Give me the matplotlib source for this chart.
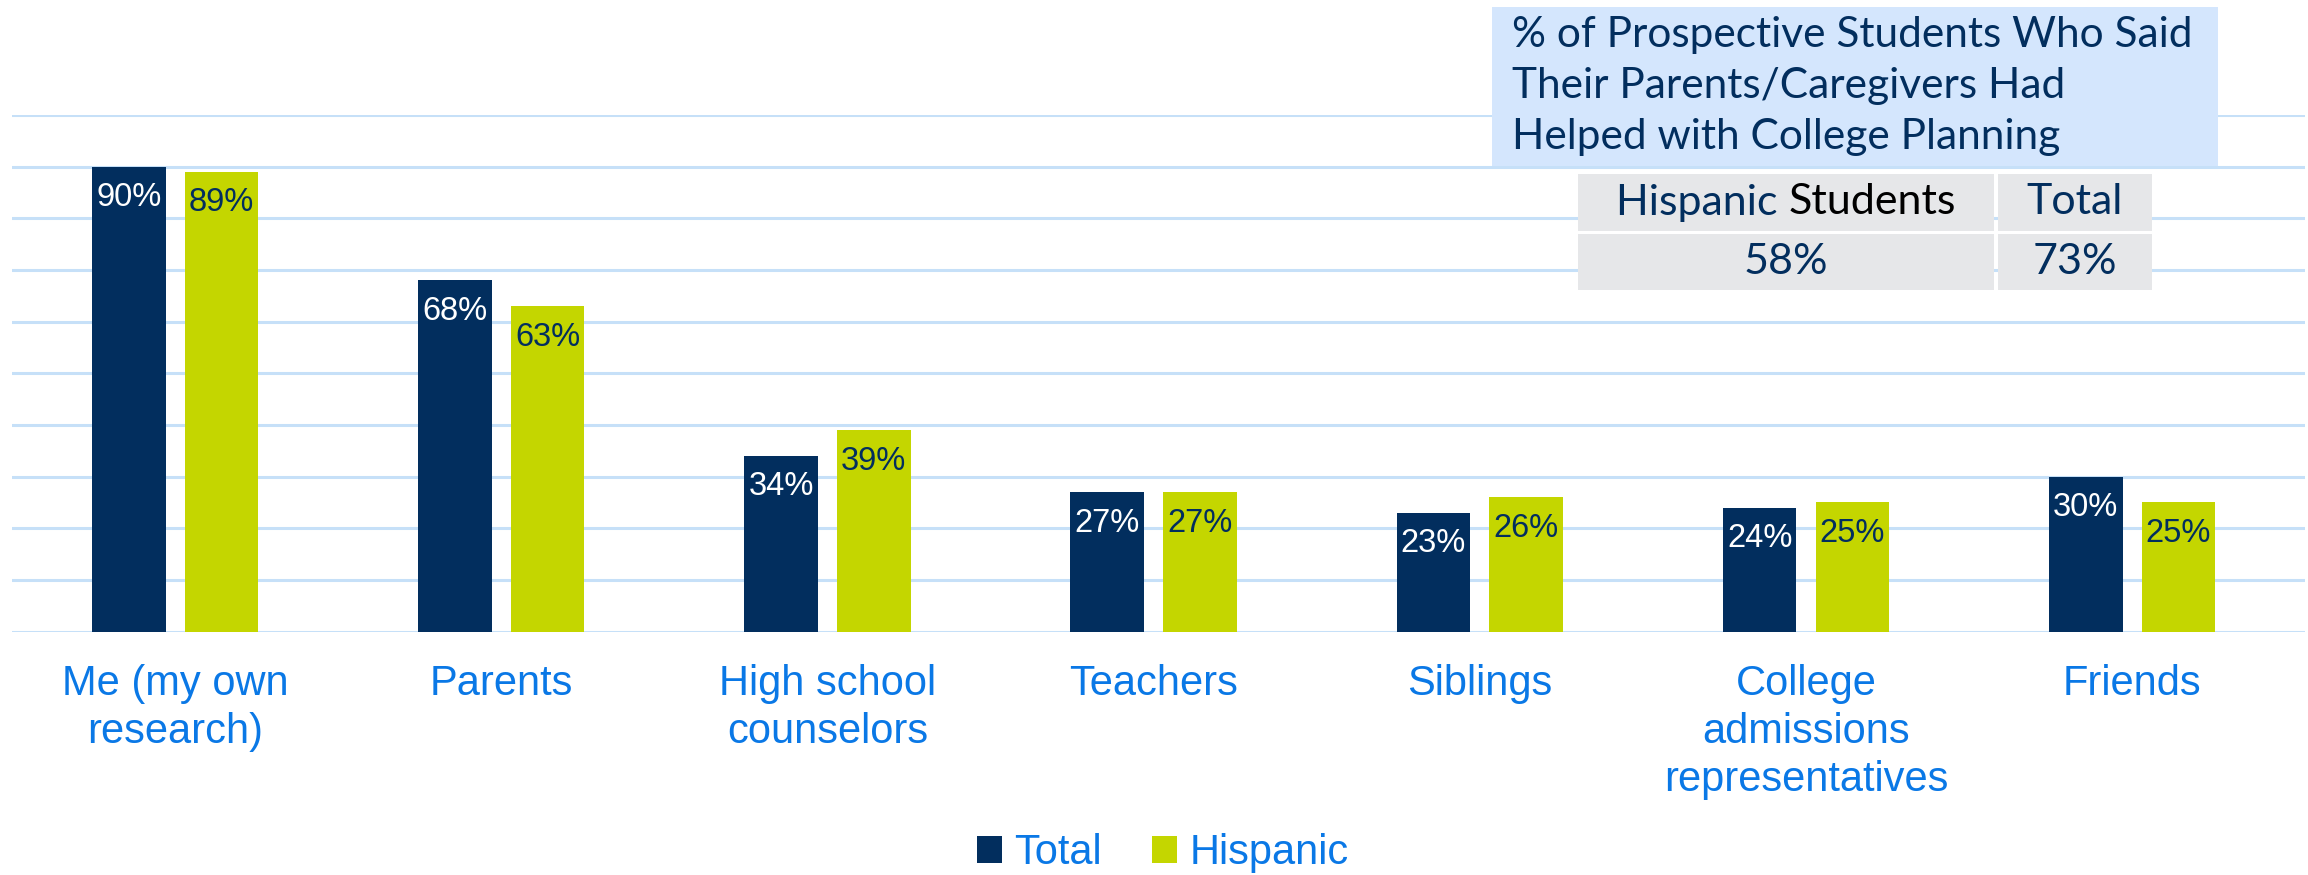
import numpy as np
import matplotlib.pyplot as plt
from matplotlib.patches import Rectangle

categories = ["Me (my own\nresearch)", "Parents", "High school\ncounselors", "Teachers",
              "Siblings", "College\nadmissions\nrepresentatives", "Friends"]
total = [90, 68, 34, 27, 23, 24, 30]
hispanic = [89, 63, 39, 27, 26, 25, 25]
series_names = ["Total", "Hispanic"]

box_title = "% of Prospective Students Who Said\nTheir Parents/Caregivers Had\nHelped with College Planning"
table_header = ["Hispanic Students", "Total"]
table_values = ["58%", "73%"]

NAVY = "#022e5e"
GREEN = "#c4d600"
BLUE_TXT = "#0a78e6"
GRID = "#c6e0f8"

plt.rcParams['font.family'] = ['Liberation Sans', 'DejaVu Sans']
BOX_FONT = ["Lato", "DejaVu Sans"]

fig = plt.figure(figsize=(23.08, 8.75), dpi=100)
ax = fig.add_axes([12 / 2308, 1 - 631.5 / 875, 2293 / 2308, (631.5 - 115) / 875])

x = np.arange(len(categories))
w = 0.2255
off = (w + 0.0586) / 2
b1 = ax.bar(x - off, total, w, color=NAVY, zorder=3, label=series_names[0])
b2 = ax.bar(x + off, hispanic, w, color=GREEN, zorder=3, label=series_names[1])

for bars, vals, col in [(b1, total, "white"), (b2, hispanic, NAVY)]:
    for r, v in zip(bars, vals):
        ax.annotate(f"{v}%", (r.get_x() + r.get_width() / 2, v), xytext=(0, -31),
                    textcoords="offset pixels", ha="center", va="center",
                    fontsize=23.5, color=col, zorder=4)

ax.set_xlim(-0.5, 6.53)
ax.set_ylim(0, 100)
ax.set_yticks(np.arange(0, 101, 10))
ax.yaxis.grid(True, color=GRID, linewidth=2.2, zorder=0)
ax.tick_params(left=False, labelleft=False, bottom=False)
for s in ax.spines.values():
    s.set_visible(False)
ax.set_xticks(x)
ax.set_xticklabels(categories, fontsize=30, color=BLUE_TXT, linespacing=1.25, va="top")
ax.tick_params(axis="x", pad=20)

leg = fig.legend(loc="center", bbox_to_anchor=(1163 / 2308, 1 - 853 / 875), ncol=2,
                 frameon=False, fontsize=30, handlelength=0.6, handleheight=0.6,
                 handletextpad=0.3, columnspacing=1.2)
for t in leg.get_texts():
    t.set_color(BLUE_TXT)

# highlighted note box with its small table
fig.patches.append(Rectangle((1492 / 2308, 1 - 166 / 875), 726 / 2308, 159 / 875,
                             transform=fig.transFigure, facecolor="#d4e6fd",
                             edgecolor="none", zorder=5))
fig.text(1512 / 2308, 1 - 16 / 875, box_title, ha="left", va="top", fontsize=30.5,
         color=NAVY, family=BOX_FONT, linespacing=1.42, zorder=6)

cells = [(1578, 174, 416, 57), (1998, 174, 154, 57), (1578, 234, 416, 56), (1998, 234, 154, 56)]
texts = table_header + table_values
for i, ((cx, cy, cw, ch), t) in enumerate(zip(cells, texts)):
    fig.patches.append(Rectangle((cx / 2308, 1 - (cy + ch) / 875), cw / 2308, ch / 875,
                                 transform=fig.transFigure, facecolor="#e6e7e9",
                                 edgecolor="none", zorder=5))
    if i == 0:
        continue
    fig.text((cx + cw / 2) / 2308, 1 - (cy + ch / 2) / 875, t, ha="center", va="center",
             fontsize=31, color=NAVY, family=BOX_FONT, zorder=6)

# first header cell: "Hispanic" in navy, "Students" in black
cx, cy, cw, ch = cells[0]
first, second = table_header[0].split(" ", 1)
renderer = fig.canvas.get_renderer()
probe = fig.text(0, 0, table_header[0], fontsize=31, family=BOX_FONT)
full_w = probe.get_window_extent(renderer).width
probe.remove()
t1 = fig.text((cx + cw / 2 - full_w / 2) / 2308, 1 - (cy + ch / 2) / 875, first + " ",
              ha="left", va="center", fontsize=31, color=NAVY, family=BOX_FONT, zorder=6)
w1 = t1.get_window_extent(renderer).width
fig.text((cx + cw / 2 - full_w / 2 + w1) / 2308, 1 - (cy + ch / 2) / 875, second,
         ha="left", va="center", fontsize=31, color="black", family=BOX_FONT, zorder=6)

fig.savefig("out.png", dpi=100)
